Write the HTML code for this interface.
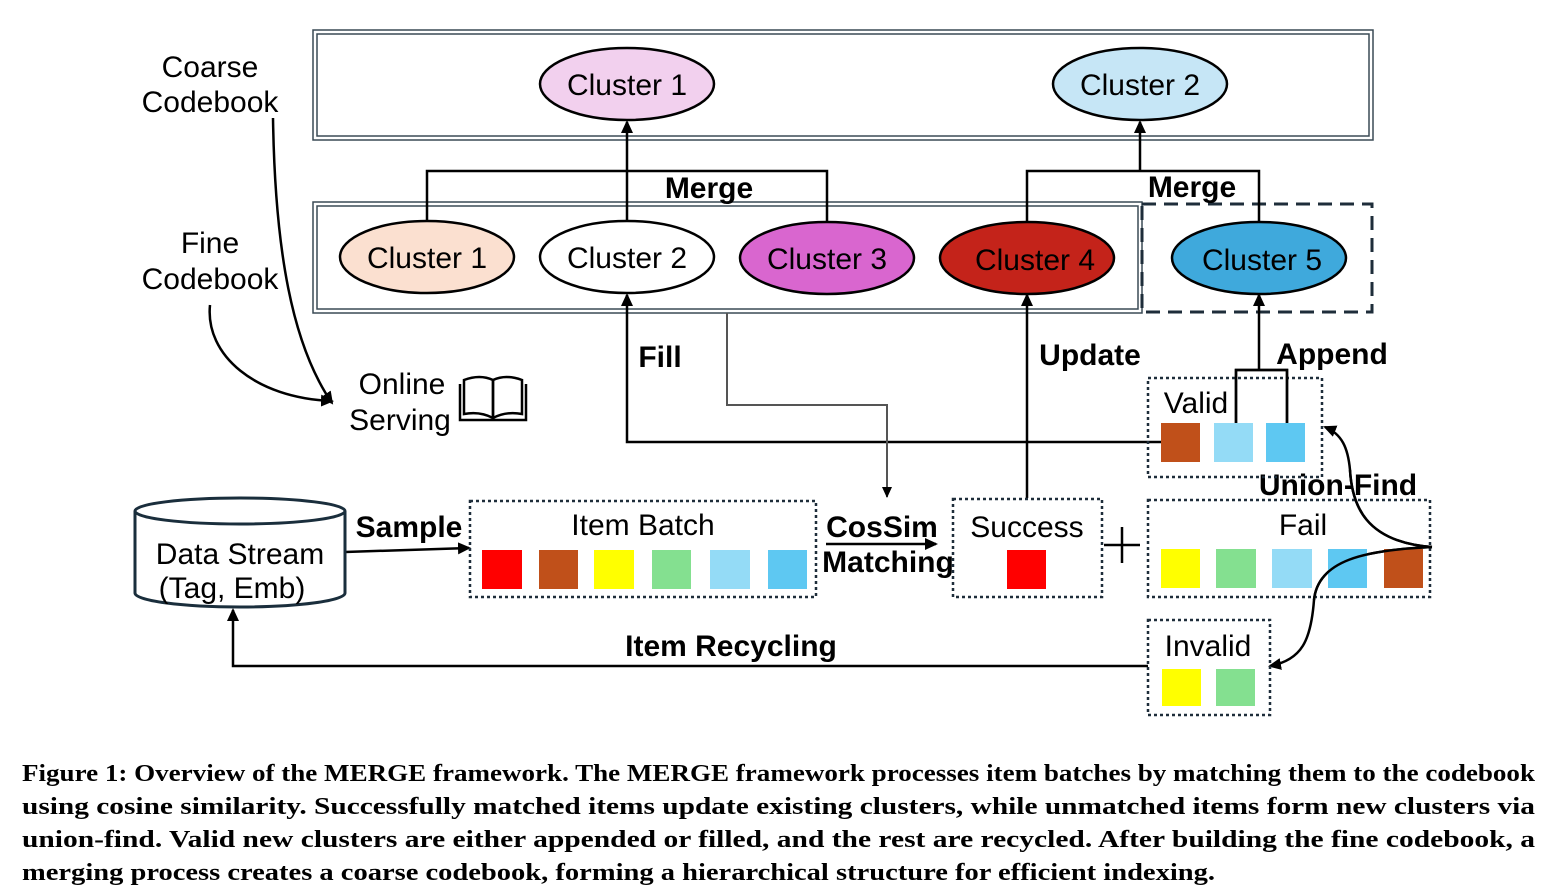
<!DOCTYPE html>
<html><head><meta charset="utf-8"><style>
html,body{margin:0;padding:0;background:#fff;}
svg{display:block;}
.s{font-family:"Liberation Sans",Arial,sans-serif;}
.b{font-weight:bold;}
.cap{font-family:"Liberation Serif",serif;font-weight:bold;font-size:24px;}
</style></head><body>
<svg width="1557" height="894" viewBox="0 0 1557 894" xmlns="http://www.w3.org/2000/svg">
<defs>
<marker id="ar" markerWidth="14" markerHeight="12" refX="11" refY="6" orient="auto" markerUnits="userSpaceOnUse">
<path d="M0,0 L13,6 L0,12 z" fill="#000"/></marker>
<marker id="arg" markerWidth="12" markerHeight="10" refX="10" refY="5" orient="auto" markerUnits="userSpaceOnUse">
<path d="M0,0 L11,5 L0,10 z" fill="#000"/></marker>
</defs>
<!-- coarse box -->
<rect x="313" y="30" width="1060" height="110" fill="none" stroke="#3a4a55" stroke-width="1.5"/>
<rect x="317" y="34" width="1052" height="102" fill="none" stroke="#3a4a55" stroke-width="1.5"/>
<!-- fine box -->
<rect x="313" y="202" width="829" height="111" fill="none" stroke="#3a4a55" stroke-width="1.5"/>
<rect x="317" y="206" width="821" height="103" fill="none" stroke="#3a4a55" stroke-width="1.5"/>
<rect x="1142" y="204" width="230" height="108" fill="none" stroke="#1e2d3a" stroke-width="3" stroke-dasharray="14,8"/>
<g stroke="#000" stroke-width="2.5" fill="none">
<path d="M427,221 V171 H827 V222"/>
<path d="M627,221 V122" marker-end="url(#ar)"/>
<path d="M1027,222 V171 H1259 V222"/>
<path d="M1140,171 V122" marker-end="url(#ar)"/>
<path d="M1161,442 H627 V295" marker-end="url(#ar)"/>
<path d="M1027,498 V295" marker-end="url(#ar)"/>
<path d="M1259,370 V295" marker-end="url(#ar)"/>
<path d="M1236,423 V370 H1287 V423"/>
<path d="M1148,666 H233 V610" marker-end="url(#ar)"/>
<path d="M345,552 L469,548" marker-end="url(#ar)"/>
<path d="M826,544 L936,544" marker-end="url(#ar)"/>
<path d="M1432,547 C1365,542 1352,505 1350,470 C1348,448 1342,434 1325,427" marker-end="url(#ar)"/>
<path d="M1432,547 C1365,550 1318,560 1314,600 C1311,640 1302,660 1270,666" marker-end="url(#ar)"/>
<path d="M273,118 C275,250 292,345 332,403" marker-end="url(#ar)"/>
<path d="M210,305 C205,355 255,398 332,401" marker-end="url(#ar)"/>
<path d="M1104,545 H1140 M1122,527 V563"/>
</g>
<path d="M727,313 V405 H887 V497" stroke="#555" stroke-width="2" fill="none" marker-end="url(#arg)"/>
<g stroke="#000" stroke-width="2.5">
<ellipse cx="627" cy="84" rx="87" ry="36" fill="#f2d0ee"/>
<ellipse cx="1140" cy="84" rx="87" ry="36" fill="#c6e6f6"/>
<ellipse cx="427" cy="257" rx="87" ry="36" fill="#fbe0d0"/>
<ellipse cx="627" cy="257" rx="87" ry="36" fill="#fff"/>
<ellipse cx="827" cy="258" rx="87" ry="36" fill="#d966cf"/>
<ellipse cx="1027" cy="258" rx="87" ry="36" fill="#c4231a"/>
<ellipse cx="1259" cy="258" rx="87" ry="36" fill="#3fa9dc"/>
</g>
<!-- cylinder -->
<g stroke="#1a2e3c" stroke-width="3" fill="#fff">
<path d="M135,511 V593 A105,14 0 0 0 345,593 V511"/>
<ellipse cx="240" cy="511" rx="105" ry="13"/>
</g>
<g class="s" font-size="30" text-anchor="middle">
<text x="627" y="95">Cluster 1</text>
<text x="1140" y="95">Cluster 2</text>
<text x="427" y="268">Cluster 1</text>
<text x="627" y="268">Cluster 2</text>
<text x="827" y="269">Cluster 3</text>
<text x="1035" y="270">Cluster 4</text>
<text x="1262" y="270">Cluster 5</text>
<text x="210" y="77">Coarse</text>
<text x="210" y="112">Codebook</text>
<text x="210" y="253">Fine</text>
<text x="210" y="289">Codebook</text>
<text x="402" y="394">Online</text>
<text x="400" y="430">Serving</text>
<text x="240" y="564">Data Stream</text>
<text x="232" y="598">(Tag, Emb)</text>
<text x="643" y="535">Item Batch</text>
<text x="1027" y="537">Success</text>
<text x="1303" y="535">Fail</text>
<text x="1196" y="413">Valid</text>
<text x="1208" y="656">Invalid</text>
</g>
<g class="s b" font-size="30" text-anchor="middle">
<text x="709" y="198">Merge</text>
<text x="1192" y="197">Merge</text>
<text x="660" y="367">Fill</text>
<text x="1090" y="365">Update</text>
<text x="1332" y="364">Append</text>
<text x="1338" y="495">Union-Find</text>
<text x="409" y="537">Sample</text>
<text x="882" y="537">CosSim</text>
<text x="888" y="572">Matching</text>
<text x="731" y="656">Item Recycling</text>
</g>
<g stroke="#000" stroke-width="2.5" fill="none">
<path d="M460,384 V420 H526 V384"/>
<path d="M464,414 V380 Q480,374 493,380 V418 Q480,411 464,414 z"/>
<path d="M522,414 V380 Q506,374 493,380 V418 Q506,411 522,414 z"/>
</g>
<g fill="none" stroke="#1e2d3a" stroke-width="2.5" stroke-dasharray="3,3">
<rect x="470" y="501" width="346" height="96"/>
<rect x="953" y="499" width="149" height="98"/>
<rect x="1148" y="378" width="174" height="99"/>
<rect x="1148" y="500" width="282" height="97"/>
<rect x="1148" y="620" width="122" height="95"/>
</g>
<g>
<rect x="482" y="550" width="40" height="39" fill="#ff0000"/>
<rect x="539" y="550" width="39" height="39" fill="#c0501a"/>
<rect x="594" y="550" width="40" height="39" fill="#ffff00"/>
<rect x="652" y="550" width="39" height="39" fill="#84e090"/>
<rect x="710" y="550" width="40" height="39" fill="#94dbf6"/>
<rect x="768" y="550" width="39" height="39" fill="#5ec8f2"/>
<rect x="1007" y="550" width="39" height="39" fill="#ff0000"/>
<rect x="1161" y="423" width="39" height="39" fill="#c0501a"/>
<rect x="1214" y="423" width="39" height="39" fill="#94dbf6"/>
<rect x="1266" y="423" width="39" height="39" fill="#5ec8f2"/>
<rect x="1161" y="549" width="39" height="39" fill="#ffff00"/>
<rect x="1216" y="549" width="40" height="39" fill="#84e090"/>
<rect x="1272" y="549" width="40" height="39" fill="#94dbf6"/>
<rect x="1328" y="549" width="39" height="39" fill="#5ec8f2"/>
<rect x="1384" y="549" width="39" height="39" fill="#c0501a"/>
<rect x="1162" y="669" width="39" height="37" fill="#ffff00"/>
<rect x="1216" y="669" width="39" height="37" fill="#84e090"/>
</g>
<g stroke="#000" stroke-width="2.5" fill="none">
<path d="M1236,423 V370 H1287 V423"/>
<path d="M1432,547 C1365,550 1318,560 1314,600"/>
<path d="M1432,547 C1365,542 1352,505 1350,470"/>
</g>
<g class="cap">
<text x="22" y="781" textLength="1513" lengthAdjust="spacingAndGlyphs">Figure 1: Overview of the MERGE framework. The MERGE framework processes item batches by matching them to the codebook</text>
<text x="22" y="814" textLength="1513" lengthAdjust="spacingAndGlyphs">using cosine similarity. Successfully matched items update existing clusters, while unmatched items form new clusters via</text>
<text x="22" y="847" textLength="1513" lengthAdjust="spacingAndGlyphs">union-find. Valid new clusters are either appended or filled, and the rest are recycled. After building the fine codebook, a</text>
<text x="22" y="880" textLength="1193" lengthAdjust="spacingAndGlyphs">merging process creates a coarse codebook, forming a hierarchical structure for efficient indexing.</text>
</g>
</svg>
</body></html>
